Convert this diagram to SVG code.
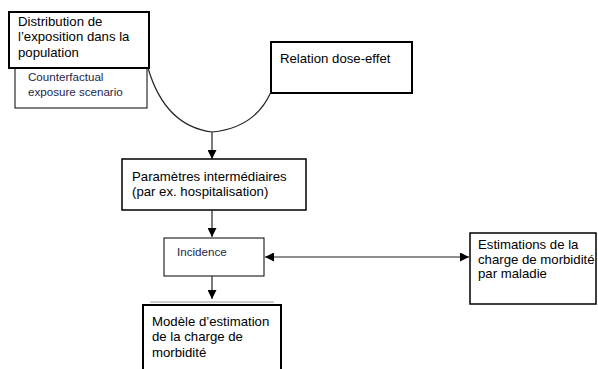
<svg xmlns="http://www.w3.org/2000/svg" width="598" height="369" viewBox="0 0 598 369">
<style>
  .t { font-family: "Liberation Sans", Arial, sans-serif; font-size: 13.2px; fill: #000; }
  .s { font-family: "Liberation Sans", Arial, sans-serif; font-size: 11.6px; fill: #22264a; }
  .bx { fill: #fff; stroke: #000; }
  .thick { stroke-width: 2; }
  .mid { stroke-width: 1.5; }
  .thin { stroke-width: 1; }
  .c { fill: none; stroke: #222; stroke-width: 1.2; }
</style>
<defs>
  <marker id="ah" viewBox="0 0 10 10" refX="10" refY="5" markerWidth="9" markerHeight="9" markerUnits="userSpaceOnUse" orient="auto-start-reverse">
    <path d="M0,0 L10,5 L0,10 z" fill="#000"/>
  </marker>
</defs>
<rect width="598" height="369" fill="#fff"/>
<g id="counterfactual">
  <rect class="bx thin" x="15" y="68" width="132" height="40" stroke="#555"/>
  <text class="s" x="28" y="81">Counterfactual</text>
  <text class="s" x="28" y="96">exposure scenario</text>
</g>
<g id="distribution">
  <rect class="bx thick" x="9" y="12" width="140" height="56"/>
  <text class="t" x="18" y="26">Distribution de</text>
  <text class="t" x="18" y="41">l’exposition dans la</text>
  <text class="t" x="18" y="57">population</text>
</g>
<g id="relation">
  <rect class="bx thick" x="271" y="42" width="141" height="51"/>
  <text class="t" x="280" y="63">Relation dose-effet</text>
</g>
<g id="parametres">
  <rect class="bx mid" x="122" y="159" width="184" height="51"/>
  <text class="t" x="132" y="181">Paramètres intermédiaires</text>
  <text class="t" x="132" y="196">(par ex. hospitalisation)</text>
</g>
<g id="incidence">
  <rect class="bx thin" x="164" y="238" width="100" height="38"/>
  <text class="s" x="177" y="256">Incidence</text>
</g>
<g id="estimations">
  <rect class="bx mid" x="470" y="233" width="126" height="71"/>
  <text class="t" x="478" y="249">Estimations de la</text>
  <text class="t" x="478" y="264">charge de morbidité</text>
  <text class="t" x="478" y="278">par maladie</text>
</g>
<g id="modele">
  <line x1="150" y1="302" x2="274" y2="302" stroke="#999" stroke-width="1"/>
  <rect class="bx thick" x="143" y="305" width="138" height="70"/>
  <text class="t" x="152" y="326">Modèle d’estimation</text>
  <text class="t" x="152" y="341">de la charge de</text>
  <text class="t" x="152" y="357">morbidité</text>
</g>
<g id="connectors">
  <path class="c" d="M148,68 Q165,126 212,132"/>
  <path class="c" d="M271,92 Q255,128 212,132"/>
  <line class="c" x1="212" y1="132" x2="212" y2="159" marker-end="url(#ah)"/>
  <line class="c" x1="212" y1="210" x2="212" y2="237" marker-end="url(#ah)"/>
  <line class="c" x1="212" y1="276" x2="212" y2="299" marker-end="url(#ah)"/>
  <line class="c" x1="265" y1="257" x2="469" y2="257" marker-start="url(#ah)" marker-end="url(#ah)"/>
</g>
</svg>
